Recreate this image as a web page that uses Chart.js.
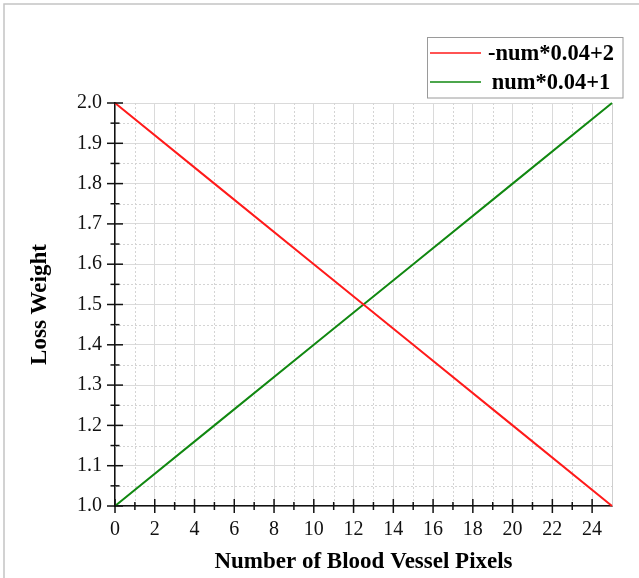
<!DOCTYPE html>
<html>
<head>
<meta charset="utf-8">
<script src="https://cdn.jsdelivr.net/npm/chart.js@4/dist/chart.umd.min.js"></script>
<style>
html,body{margin:0;padding:0;background:#fff;}
#wrap{position:relative;width:639px;height:578px;}
</style>
</head>
<body>
<div id="wrap"><canvas id="c" width="639" height="578"></canvas></div>
<script>
// ---- data ----
const numPixels   = [0, 5, 10, 15, 20, 25];
const seriesDown  = [2.0, 1.8, 1.6, 1.4, 1.2, 1.0];   // -num*0.04+2
const seriesUp    = [1.0, 1.2, 1.4, 1.6, 1.8, 2.0];   // num*0.04+1
const seriesNames = ['-num*0.04+2', 'num*0.04+1'];
const xTickLabels = [0, 2, 4, 6, 8, 10, 12, 14, 16, 18, 20, 22, 24];
const xMinorTicks = [1, 3, 5, 7, 9, 11, 13, 15, 17, 19, 21, 23];
const yTickLabels = [1.0, 1.1, 1.2, 1.3, 1.4, 1.5, 1.6, 1.7, 1.8, 1.9, 2.0];
const yMinorTicks = [1.05, 1.15, 1.25, 1.35, 1.45, 1.55, 1.65, 1.75, 1.85, 1.95];
const xTitle = 'Number of Blood Vessel Pixels';
const yTitle = 'Loss Weight';

const SERIF = "'Liberation Serif','Times New Roman',serif";

const decor = {
  id: 'decor',
  beforeDatasetsDraw(chart) {
    const {ctx, chartArea: a, scales: {x, y}} = chart;
    ctx.save();
    // minor dotted grid
    ctx.strokeStyle = '#d4d4d4';
    ctx.lineWidth = 1;
    ctx.setLineDash([2, 2]);
    xMinorTicks.forEach(v => {
      const px = Math.round(x.getPixelForValue(v)) + 0.5;
      ctx.beginPath(); ctx.moveTo(px, a.top); ctx.lineTo(px, a.bottom); ctx.stroke();
    });
    yMinorTicks.forEach(v => {
      const py = Math.round(y.getPixelForValue(v)) + 0.5;
      ctx.beginPath(); ctx.moveTo(a.left, py); ctx.lineTo(a.right, py); ctx.stroke();
    });
    ctx.setLineDash([]);
    // right edge of plot
    ctx.strokeStyle = '#cfcfcf';
    ctx.beginPath(); ctx.moveTo(a.right + 0.5, a.top); ctx.lineTo(a.right + 0.5, a.bottom); ctx.stroke();
    ctx.restore();
  },
  afterDraw(chart) {
    const {ctx, chartArea: a, scales: {x, y}} = chart;
    ctx.save();
    // outer frame (top + left)
    ctx.strokeStyle = '#c4c4c4';
    ctx.lineWidth = 1.5;
    ctx.beginPath(); ctx.moveTo(4, chart.height); ctx.lineTo(4, 4); ctx.lineTo(chart.width, 4); ctx.stroke();
    // tick marks crossing the axes
    ctx.strokeStyle = '#111';
    ctx.lineWidth = 1.5;
    const xt = (v, len) => {
      const px = x.getPixelForValue(v);
      ctx.beginPath(); ctx.moveTo(px, a.bottom - len); ctx.lineTo(px, a.bottom + len); ctx.stroke();
    };
    const yt = (v, len) => {
      const py = y.getPixelForValue(v);
      ctx.beginPath(); ctx.moveTo(a.left - len, py); ctx.lineTo(a.left + len, py); ctx.stroke();
    };
    xTickLabels.forEach(v => xt(v, 7));
    xMinorTicks.forEach(v => xt(v, 4));
    yTickLabels.forEach(v => yt(v, 8));
    yMinorTicks.forEach(v => yt(v, 4.5));
    // legend box
    const L = 427.5, T = 37.5, R = 623, B = 98;
    ctx.fillStyle = '#fff';
    ctx.fillRect(L, T, R - L, B - T);
    ctx.strokeStyle = '#9a9a9a';
    ctx.lineWidth = 1;
    ctx.strokeRect(L, T, R - L, B - T);
    const rows = [53, 82];
    chart.data.datasets.forEach((ds, i) => {
      ctx.strokeStyle = ds.borderColor;
      ctx.lineWidth = 1.5;
      ctx.beginPath(); ctx.moveTo(430, rows[i]); ctx.lineTo(481, rows[i]); ctx.stroke();
      ctx.fillStyle = '#000';
      ctx.font = "bold 22.5px " + SERIF;
      ctx.textAlign = 'center';
      ctx.textBaseline = 'middle';
      ctx.fillText(ds.label, 551, rows[i] + 1);
    });
    ctx.restore();
  }
};

new Chart(document.getElementById('c'), {
  type: 'line',
  data: {
    datasets: [
      { label: seriesNames[0], data: numPixels.map((n, i) => ({x: n, y: seriesDown[i]})),
        borderColor: '#ff1a1a', borderWidth: 2, pointRadius: 0, clip: false, tension: 0 },
      { label: seriesNames[1], data: numPixels.map((n, i) => ({x: n, y: seriesUp[i]})),
        borderColor: '#118811', borderWidth: 2, pointRadius: 0, clip: false, tension: 0 }
    ]
  },
  options: {
    responsive: false,
    animation: false,
    events: [],
    layout: { padding: { top: 103, right: 27, left: 0, bottom: 0 } },
    plugins: { legend: { display: false }, tooltip: { enabled: false } },
    scales: {
      x: {
        type: 'linear', min: 0, max: 25,
        afterBuildTicks: s => { s.ticks = xTickLabels.map(v => ({value: v})); },
        afterFit: s => { s.height = 72; },
        grid: { color: '#dadada', lineWidth: 1, drawTicks: false },
        border: { color: '#111', width: 1.5 },
        ticks: { padding: 12, color: '#111', font: { family: SERIF, size: 20 }, maxRotation: 0,
                 callback: v => String(v) },
        title: { display: true, text: xTitle, color: '#000',
                 font: { family: SERIF, size: 23, weight: 'bold' }, padding: { top: 0, bottom: 2 } }
      },
      y: {
        type: 'linear', min: 1, max: 2,
        afterBuildTicks: s => { s.ticks = yTickLabels.map(v => ({value: v})); },
        afterFit: s => { s.width = 115; },
        grid: { color: '#dadada', lineWidth: 1, drawTicks: false },
        border: { color: '#111', width: 1.5 },
        ticks: { padding: 13, color: '#111', font: { family: SERIF, size: 20 },
                 callback: v => Number(v).toFixed(1) },
        title: { display: true, text: yTitle, color: '#000',
                 font: { family: SERIF, size: 23, weight: 'bold' }, padding: { top: 26, bottom: 0 } }
      }
    }
  },
  plugins: [decor]
});
</script>
</body>
</html>
